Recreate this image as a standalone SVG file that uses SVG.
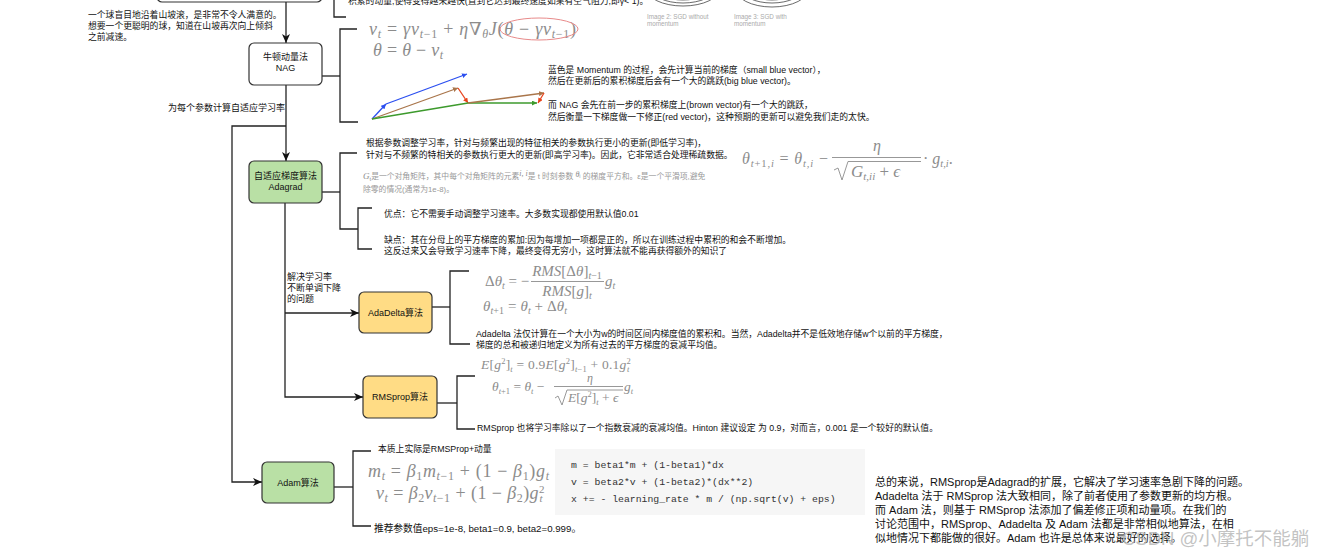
<svg xmlns="http://www.w3.org/2000/svg" width="1326" height="557" viewBox="0 0 1326 557" font-size="8.8">
<defs>
<marker id="ah" markerWidth="9" markerHeight="8" refX="9" refY="4" orient="auto" markerUnits="userSpaceOnUse"><path d="M0,0 L9,4 L0,8 L2.5,4 Z" fill="#111"/></marker>
<marker id="mb" markerWidth="5" markerHeight="5" refX="5" refY="2.5" orient="auto" markerUnits="userSpaceOnUse"><path d="M0,0 L5,2.5 L0,5 Z" fill="#2b4ff0"/></marker>
<marker id="mbr" markerWidth="5" markerHeight="5" refX="5" refY="2.5" orient="auto" markerUnits="userSpaceOnUse"><path d="M0,0 L5,2.5 L0,5 Z" fill="#a9754a"/></marker>
<marker id="mr" markerWidth="5" markerHeight="5" refX="5" refY="2.5" orient="auto" markerUnits="userSpaceOnUse"><path d="M0,0 L5,2.5 L0,5 Z" fill="#e8431c"/></marker>
<marker id="mg" markerWidth="5" markerHeight="5" refX="5" refY="2.5" orient="auto" markerUnits="userSpaceOnUse"><path d="M0,0 L5,2.5 L0,5 Z" fill="#3d9a2c"/></marker>
</defs>
<style>
.t{font-family:"Liberation Sans","Noto Sans CJK SC",sans-serif;fill:#111}
.g{fill:#999}
.m{font-family:"Liberation Serif","DejaVu Serif",serif;fill:#8c8c8c}
.i{font-style:italic}
.ln{stroke:#222;stroke-width:1.3;fill:none}
.box{stroke:#333;stroke-width:1.2}
.green{fill:#b9e0a5}
.yellow{fill:#ffdc85}
.code{font-family:"Liberation Mono",monospace;fill:#333}
.mline{stroke:#8c8c8c;stroke-width:0.9;fill:none}
.c{text-anchor:middle}
.lbl{fill:#aaa}
</style>
<rect width="1326" height="557" fill="#fff"/>

<!-- top partial content -->
<g id="top-box"><rect class="box" x="157" y="-40" width="165" height="42" rx="5" fill="#fff"/></g>
<text class="t" x="348" y="4">积累的动量,使得变得越来越快(直到它达到最终速度如果有空气阻力,即γ&lt; 1)。</text>
<g id="sgd-images" fill="none" stroke="#444" stroke-width="0.8">
<ellipse cx="683" cy="-12" rx="37" ry="18"/>
<ellipse cx="683" cy="-12" rx="32" ry="15"/>
<ellipse cx="683" cy="-12" rx="27" ry="12"/>
<ellipse cx="772" cy="-12" rx="37" ry="19"/>
<ellipse cx="772" cy="-12" rx="31" ry="15"/>
<ellipse cx="772" cy="-12" rx="25" ry="12"/>
</g>
<text class="t lbl" font-size="6.3" x="647" y="19">Image 2: SGD without</text>
<text class="t lbl" font-size="6.3" x="647" y="26">momentum</text>
<text class="t lbl" font-size="6.3" x="734" y="19">Image 3: SGD with</text>
<text class="t lbl" font-size="6.3" x="734" y="26">momentum</text>

<text class="t" x="88" y="18">一个球盲目地沿着山坡滚，是非常不令人满意的。</text>
<text class="t" x="88" y="29">想要一个更聪明的球，知道在山坡再次向上倾斜</text>
<text class="t" x="88" y="40">之前减速。</text>

<!-- connectors -->
<g id="connectors" class="ln">
<path d="M286,2 V43" marker-end="url(#ah)"/>
<path d="M334,0 V17 H346"/>
<path d="M322,76 H340"/>
<path d="M357,29 H340 V122 H358"/>
<path d="M286,85 V161" marker-end="url(#ah)"/>
<path d="M286,126 H232 V482 H262" marker-end="url(#ah)"/>
<path d="M285,203 V397 H363" marker-end="url(#ah)"/>
<path d="M285,313 H359" marker-end="url(#ah)"/>
<path d="M322,192 H340"/>
<path d="M357,153 H340 V229 H358"/>
<path d="M372,208 H358 V249 H372"/>
<path d="M432,307 H450"/>
<path d="M469,271 H450 V344 H470"/>
<path d="M437,403 H457"/>
<path d="M475,376 H457 V429 H475"/>
<path d="M334,487 H353"/>
<path d="M371,451 H353 V526 H371"/>
</g>

<text class="t" font-size="9" x="168" y="111">为每个参数计算自适应学习率</text>
<text class="t" font-size="9" x="287" y="280">解决学习率</text>
<text class="t" font-size="9" x="287" y="291">不断单调下降</text>
<text class="t" font-size="9" x="287" y="302">的问题</text>

<!-- nodes -->
<g id="nag">
<rect class="box" x="249" y="43" width="73" height="42" rx="5" fill="#fff"/>
<text class="t c" font-size="9" x="285.5" y="60">牛顿动量法</text>
<text class="t c" font-size="9" x="285.5" y="71">NAG</text>
</g>
<g id="adagrad">
<rect class="box green" x="249" y="161" width="73" height="42" rx="5"/>
<text class="t c" font-size="9" x="285.5" y="179">自适应梯度算法</text>
<text class="t c" font-size="9" x="285.5" y="190">Adagrad</text>
</g>
<g id="adadelta">
<rect class="box yellow" x="359" y="292" width="73" height="41" rx="5"/>
<text class="t c" font-size="9" x="395.5" y="316">AdaDelta算法</text>
</g>
<g id="rmsprop">
<rect class="box yellow" x="363" y="376" width="74" height="42" rx="5"/>
<text class="t c" font-size="9" x="400" y="400">RMSprop算法</text>
</g>
<g id="adam">
<rect class="box green" x="262" y="462" width="72" height="41" rx="5"/>
<text class="t c" font-size="9" x="298" y="486">Adam算法</text>
</g>

<!-- NAG details -->
<g id="nag-detail">
<text class="m" font-size="18" x="369" y="35" textLength="207" lengthAdjust="spacing"><tspan class="i">v</tspan><tspan class="i" font-size="12" dy="3">t</tspan><tspan dy="-3"> = </tspan><tspan class="i">γv</tspan><tspan font-size="12" dy="3" class="i">t</tspan><tspan font-size="12">−1</tspan><tspan dy="-3"> + </tspan><tspan class="i">η</tspan><tspan>∇</tspan><tspan class="i" font-size="12" dy="3">θ</tspan><tspan class="i" dy="-3">J</tspan><tspan>(</tspan><tspan class="i">θ</tspan><tspan> − </tspan><tspan class="i">γv</tspan><tspan font-size="12" dy="3" class="i">t</tspan><tspan font-size="12">−1</tspan><tspan dy="-3">)</tspan></text>
<ellipse cx="539" cy="29" rx="39" ry="11" fill="none" stroke="#e88a8a" stroke-width="1"/>
<text class="m" font-size="18" x="373" y="56" textLength="70" lengthAdjust="spacing"><tspan class="i">θ</tspan> = <tspan class="i">θ</tspan> − <tspan class="i">v</tspan><tspan class="i" font-size="12" dy="3">t</tspan></text>
<g stroke-width="1.3" fill="none">
<path d="M372,119 L386,104" stroke="#2b4ff0" marker-end="url(#mb)"/>
<path d="M386,104 L467,74" stroke="#2b4ff0" marker-end="url(#mb)"/>
<path d="M372,119 L458,88" stroke="#a9754a" marker-end="url(#mbr)"/>
<path d="M458,88 L468,103" stroke="#e8431c" marker-end="url(#mr)"/>
<path d="M372,119 L468,103" stroke="#3d9a2c"/>
<path d="M468,103 L537,103" stroke="#3d9a2c" marker-end="url(#mg)"/>
<path d="M468,103 L544,93" stroke="#a9754a" marker-end="url(#mbr)"/>
<path d="M544,93 L538,103" stroke="#e8431c" marker-end="url(#mr)"/>
</g>
<text class="t" x="548" y="73">蓝色是 Momentum 的过程，会先计算当前的梯度（small blue vector），</text>
<text class="t" x="548" y="84">然后在更新后的累积梯度后会有一个大的跳跃(big blue vector)。</text>
<text class="t" x="548" y="108">而 NAG 会先在前一步的累积梯度上(brown vector)有一个大的跳跃，</text>
<text class="t" x="548" y="120">然后衡量一下梯度做一下修正(red vector)，这种预期的更新可以避免我们走的太快。</text>
</g>

<!-- Adagrad details -->
<g id="adagrad-detail">
<text class="t" x="366" y="146">根据参数调整学习率，针对与频繁出现的特征相关的参数执行更小的更新(即低学习率)，</text>
<text class="t" x="366" y="158">针对与不频繁的特相关的参数执行更大的更新(即高学习率)。因此，它非常适合处理稀疏数据。</text>
<text class="m" font-size="16" x="742" y="164" textLength="86" lengthAdjust="spacing"><tspan class="i">θ</tspan><tspan class="i" font-size="10.5" dy="3">t</tspan><tspan font-size="10.5">+1,</tspan><tspan class="i" font-size="10.5">i</tspan><tspan dy="-3"> = </tspan><tspan class="i">θ</tspan><tspan class="i" font-size="10.5" dy="3">t,i</tspan><tspan dy="-3"> − </tspan></text>
<text class="m i c" font-size="16" x="877" y="151">η</text>
<path class="mline" d="M832,157.5 H921"/>
<path class="mline" d="M834,170 L838,168 L842,180 L848,161.5 H921"/>
<text class="m" font-size="17" x="851" y="177"><tspan class="i">G</tspan><tspan class="i" font-size="11" dy="3">t,ii</tspan><tspan dy="-3"> + </tspan><tspan class="i">ϵ</tspan></text>
<text class="m" font-size="16" x="923" y="164">· <tspan class="i">g</tspan><tspan class="i" font-size="10.5" dy="3">t,i</tspan><tspan dy="-3">.</tspan></text>
<text class="t g" font-size="7.8" x="363" y="179"><tspan class="m i" font-size="9">G</tspan><tspan font-size="6" dy="1.5">t</tspan><tspan dy="-1.5">是一个对角矩阵，其中每个对角矩阵的元素</tspan><tspan class="m i" font-size="8" dy="-3">i, i</tspan><tspan dy="3">是 t 时刻参数 </tspan><tspan class="m i" font-size="8" dy="-2">θ</tspan><tspan font-size="5.5" dy="1">i</tspan><tspan dy="1"> 的梯度平方和。ε是一个平滑项,避免</tspan></text>
<text class="t g" font-size="7.8" x="363" y="192">除零的情况(通常为1e-8)。</text>
<text class="t" x="384" y="217">优点：它不需要手动调整学习速率。大多数实现都使用默认值0.01</text>
<text class="t" x="384" y="243">缺点：其在分母上的平方梯度的累加:因为每增加一项都是正的，所以在训练过程中累积的和会不断增加。</text>
<text class="t" x="384" y="254">这反过来又会导致学习速率下降，最终变得无穷小，这时算法就不能再获得额外的知识了</text>
</g>

<!-- AdaDelta details -->
<g id="adadelta-detail">
<text class="m" font-size="15" x="485" y="286">Δ<tspan class="i">θ</tspan><tspan class="i" font-size="10" dy="3">t</tspan><tspan dy="-3"> = −</tspan></text>
<text class="m c" font-size="15" x="567" y="276"><tspan class="i">RMS</tspan>[Δ<tspan class="i">θ</tspan>]<tspan font-size="10" dy="3"><tspan class="i">t</tspan>−1</tspan></text>
<path class="mline" d="M531,281.5 H604"/>
<text class="m c" font-size="15" x="567" y="296"><tspan class="i">RMS</tspan>[<tspan class="i">g</tspan>]<tspan class="i" font-size="10" dy="3">t</tspan></text>
<text class="m" font-size="15" x="605" y="286"><tspan class="i">g</tspan><tspan class="i" font-size="10" dy="3">t</tspan></text>
<text class="m" font-size="15" x="483" y="311" textLength="84" lengthAdjust="spacing"><tspan class="i">θ</tspan><tspan font-size="10" dy="3"><tspan class="i">t</tspan>+1</tspan><tspan dy="-3"> = </tspan><tspan class="i">θ</tspan><tspan class="i" font-size="10" dy="3">t</tspan><tspan dy="-3"> + Δ</tspan><tspan class="i">θ</tspan><tspan class="i" font-size="10" dy="3">t</tspan></text>
<text class="t" x="476" y="337">Adadelta 法仅计算在一个大小为w的时间区间内梯度值的累积和。当然，Adadelta并不是低效地存储w个以前的平方梯度，</text>
<text class="t" x="476" y="348">梯度的总和被递归地定义为所有过去的平方梯度的衰减平均值。</text>
</g>

<!-- RMSprop details -->
<g id="rmsprop-detail">
<text class="m" font-size="13.5" x="481" y="369" textLength="150" lengthAdjust="spacing"><tspan class="i">E</tspan>[<tspan class="i">g</tspan><tspan font-size="8.5" dy="-5">2</tspan><tspan dy="5">]</tspan><tspan class="i" font-size="8.5" dy="3">t</tspan><tspan dy="-3"> = 0.9</tspan><tspan class="i">E</tspan>[<tspan class="i">g</tspan><tspan font-size="8.5" dy="-5">2</tspan><tspan dy="5">]</tspan><tspan font-size="8.5" dy="3"><tspan class="i">t</tspan>−1</tspan><tspan dy="-3"> + 0.1</tspan><tspan class="i">g</tspan><tspan font-size="8.5" dy="-5">2</tspan><tspan class="i" font-size="8.5" dx="-4" dy="8">t</tspan></text>
<text class="m" font-size="13.5" x="492" y="391"><tspan class="i">θ</tspan><tspan font-size="8.5" dy="3"><tspan class="i">t</tspan>+1</tspan><tspan dy="-3"> = </tspan><tspan class="i">θ</tspan><tspan class="i" font-size="8.5" dy="3">t</tspan><tspan dy="-3"> −</tspan></text>
<text class="m i c" font-size="12" x="590" y="382">η</text>
<path class="mline" d="M554,386.5 H623"/>
<path class="mline" d="M555,398 L558,396 L562,405 L567,390 H623"/>
<text class="m" font-size="13.5" x="568" y="402"><tspan class="i">E</tspan>[<tspan class="i">g</tspan><tspan font-size="8.5" dy="-5">2</tspan><tspan dy="5">]</tspan><tspan class="i" font-size="8.5" dy="3">t</tspan><tspan dy="-3"> + </tspan><tspan class="i">ϵ</tspan></text>
<text class="m" font-size="13.5" x="624" y="391"><tspan class="i">g</tspan><tspan class="i" font-size="8.5" dy="3">t</tspan></text>
<text class="t" x="477" y="431">RMSprop 也将学习率除以了一个指数衰减的衰减均值。Hinton 建议设定 为 0.9，对而言，0.001 是一个较好的默认值。</text>
</g>

<!-- Adam details -->
<g id="adam-detail">
<text class="t" x="378" y="452">本质上实际是RMSProp+动量</text>
<text class="m" font-size="18" x="368" y="477" textLength="181" lengthAdjust="spacing"><tspan class="i">m</tspan><tspan class="i" font-size="12" dy="3">t</tspan><tspan dy="-3"> = </tspan><tspan class="i">β</tspan><tspan font-size="12" dy="3">1</tspan><tspan class="i" dy="-3">m</tspan><tspan font-size="12" dy="3"><tspan class="i">t</tspan>−1</tspan><tspan dy="-3"> + (1 − </tspan><tspan class="i">β</tspan><tspan font-size="12" dy="3">1</tspan><tspan dy="-3">)</tspan><tspan class="i">g</tspan><tspan class="i" font-size="12" dy="3">t</tspan></text>
<text class="m" font-size="18" x="376" y="499" textLength="169" lengthAdjust="spacing"><tspan class="i">v</tspan><tspan class="i" font-size="12" dy="3">t</tspan><tspan dy="-3"> = </tspan><tspan class="i">β</tspan><tspan font-size="12" dy="3">2</tspan><tspan class="i" dy="-3">v</tspan><tspan font-size="12" dy="3"><tspan class="i">t</tspan>−1</tspan><tspan dy="-3"> + (1 − </tspan><tspan class="i">β</tspan><tspan font-size="12" dy="3">2</tspan><tspan dy="-3">)</tspan><tspan class="i">g</tspan><tspan font-size="11" dy="-6">2</tspan><tspan class="i" font-size="11" dx="-5.5" dy="9">t</tspan></text>
<text class="t" font-size="9.7" x="374" y="532">推荐参数值eps=1e-8, beta1=0.9, beta2=0.999。</text>
<rect x="555" y="449" width="310" height="66" fill="#f6f6f6"/>
<text class="code" font-size="9.8" x="571" y="468">m = beta1*m + (1-beta1)*dx</text>
<text class="code" font-size="9.8" x="571" y="485">v = beta2*v + (1-beta2)*(dx**2)</text>
<text class="code" font-size="9.8" x="571" y="502">x += - learning_rate * m / (np.sqrt(v) + eps)</text>
</g>

<g id="summary">
<text class="t" font-size="11" x="875" y="486">总的来说，RMSprop是Adagrad的扩展，它解决了学习速率急剧下降的问题。</text>
<text class="t" font-size="11" x="875" y="500">Adadelta 法于 RMSprop 法大致相同，除了前者使用了参数更新的均方根。</text>
<text class="t" font-size="11" x="875" y="514">而 Adam 法，则基于 RMSprop 法添加了偏差修正项和动量项。在我们的</text>
<text class="t" font-size="11" x="875" y="528">讨论范围中，RMSprop、Adadelta 及 Adam 法都是非常相似地算法，在相</text>
<text class="t" font-size="11" x="875" y="542">似地情况下都能做的很好。Adam 也许是总体来说最好的选择。</text>
</g>
<text font-family="Liberation Sans,Noto Sans CJK SC,sans-serif" font-size="18.5" fill="#b8b8b8" fill-opacity="0.85" x="1122" y="545">CSDN @小摩托不能躺</text>
</svg>
